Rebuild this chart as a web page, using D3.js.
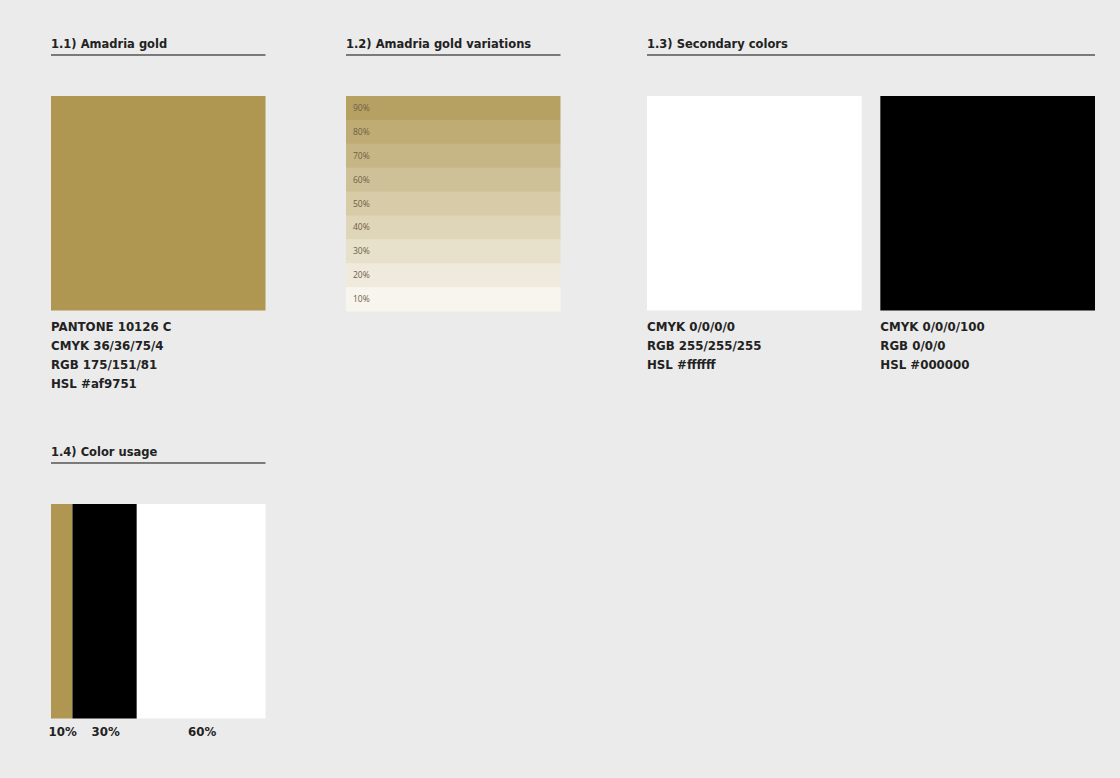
<!DOCTYPE html>
<html>
<head>
<meta charset="utf-8">
<script src="https://cdn.jsdelivr.net/npm/d3@7"></script>
<style>
  body { margin: 0; background: #ebebeb; }
  svg { display: block; font-family: "DejaVu Sans", sans-serif; }
  .hdr { font-size: 11.5px; font-weight: 700; fill: #222; }
  .cap { font-size: 11.8px; font-weight: 700; fill: #222; }
  .pct { font-size: 8.5px; fill: #6a6045; font-family: "Open Sans", sans-serif; }
</style>
</head>
<body>
<svg width="1120" height="778"></svg>
<script>
const GOLD = "#af9751";

const SECTIONS = ["1.1) Amadria gold", "1.2) Amadria gold variations", "1.3) Secondary colors", "1.4) Color usage"];
const GOLD_INFO = ["PANTONE 10126 C", "CMYK 36/36/75/4", "RGB 175/151/81", "HSL #af9751"];
const VARIATIONS = [90, 80, 70, 60, 50, 40, 30, 20, 10];
const SECONDARY = [
    { color: "#ffffff", info: ["CMYK 0/0/0/0", "RGB 255/255/255", "HSL #ffffff"] },
    { color: "#000000", info: ["CMYK 0/0/0/100", "RGB 0/0/0", "HSL #000000"] },
];
const USAGE = [
    { label: "10%", share: 10, color: GOLD },
    { label: "30%", share: 30, color: "#000000" },
    { label: "60%", share: 60, color: "#ffffff" },
];

const svg = d3.select('svg');

// section header with underline
function header(x, y, w, text) {
    svg.append('text').classed('hdr', true).attr('x', x).attr('y', y).text(text);
    svg.append('line')
        .attr('x1', x).attr('x2', x + w)
        .attr('y1', y + 7).attr('y2', y + 7)
        .attr('stroke', '#7a7a7a').attr('stroke-width', 2);
}

function caption(x, y, lines) {
    svg.append('g').selectAll('text')
        .data(lines)
        .enter()
        .append('text')
        .classed('cap', true)
        .attr('x', x)
        .attr('y', (d, i) => y + i * 19)
        .text(d => d);
}

const S = 214.5;

// 1.1
header(51, 48, S, SECTIONS[0]);
svg.append('rect').attr('x', 51).attr('y', 96).attr('width', S).attr('height', S).attr('fill', GOLD);
caption(51, 331, GOLD_INFO);

// 1.2
header(346, 48, S, SECTIONS[1]);
const yBand = d3.scaleBand()
    .domain(VARIATIONS)
    .range([96, 311]);
const tint = d3.interpolateRgb("#ffffff", GOLD);
const bands = svg.append('g').selectAll('g')
    .data(VARIATIONS)
    .enter()
    .append('g');
bands.append('rect')
    .attr('x', 346)
    .attr('y', d => yBand(d))
    .attr('width', S)
    .attr('height', yBand.bandwidth() + 0.5)
    .attr('fill', d => tint(d / 100));
bands.append('text')
    .classed('pct', true)
    .attr('x', 353)
    .attr('y', d => yBand(d) + yBand.bandwidth() / 2 + 3)
    .text(d => d + '%');

// 1.3
header(647, 48, 448, SECTIONS[2]);
const xSec = d3.scaleBand()
    .domain(SECONDARY.map((d, i) => i))
    .range([647, 1095])
    .paddingInner(0.08);
SECONDARY.forEach((d, i) => {
    svg.append('rect')
        .attr('x', xSec(i)).attr('y', 96)
        .attr('width', xSec.bandwidth()).attr('height', S)
        .attr('fill', d.color);
    caption(xSec(i), 331, d.info);
});

// 1.4
header(51, 456, S, SECTIONS[3]);
const xUse = d3.scaleLinear().domain([0, 100]).range([51, 51 + S]);
let acc = 0;
const stack = USAGE.map(d => { const o = { ...d, x0: acc, x1: acc + d.share }; acc += d.share; return o; });
const seg = svg.append('g').selectAll('g')
    .data(stack)
    .enter()
    .append('g');
seg.append('rect')
    .attr('x', d => xUse(d.x0))
    .attr('y', 504)
    .attr('width', d => xUse(d.x1) - xUse(d.x0))
    .attr('height', S)
    .attr('fill', d => d.color);
seg.append('text')
    .classed('cap', true)
    .attr('text-anchor', 'middle')
    .attr('x', d => (xUse(d.x0) + xUse(d.x1)) / 2 + 1)
    .attr('y', 736)
    .text(d => d.label);
</script>
</body>
</html>
